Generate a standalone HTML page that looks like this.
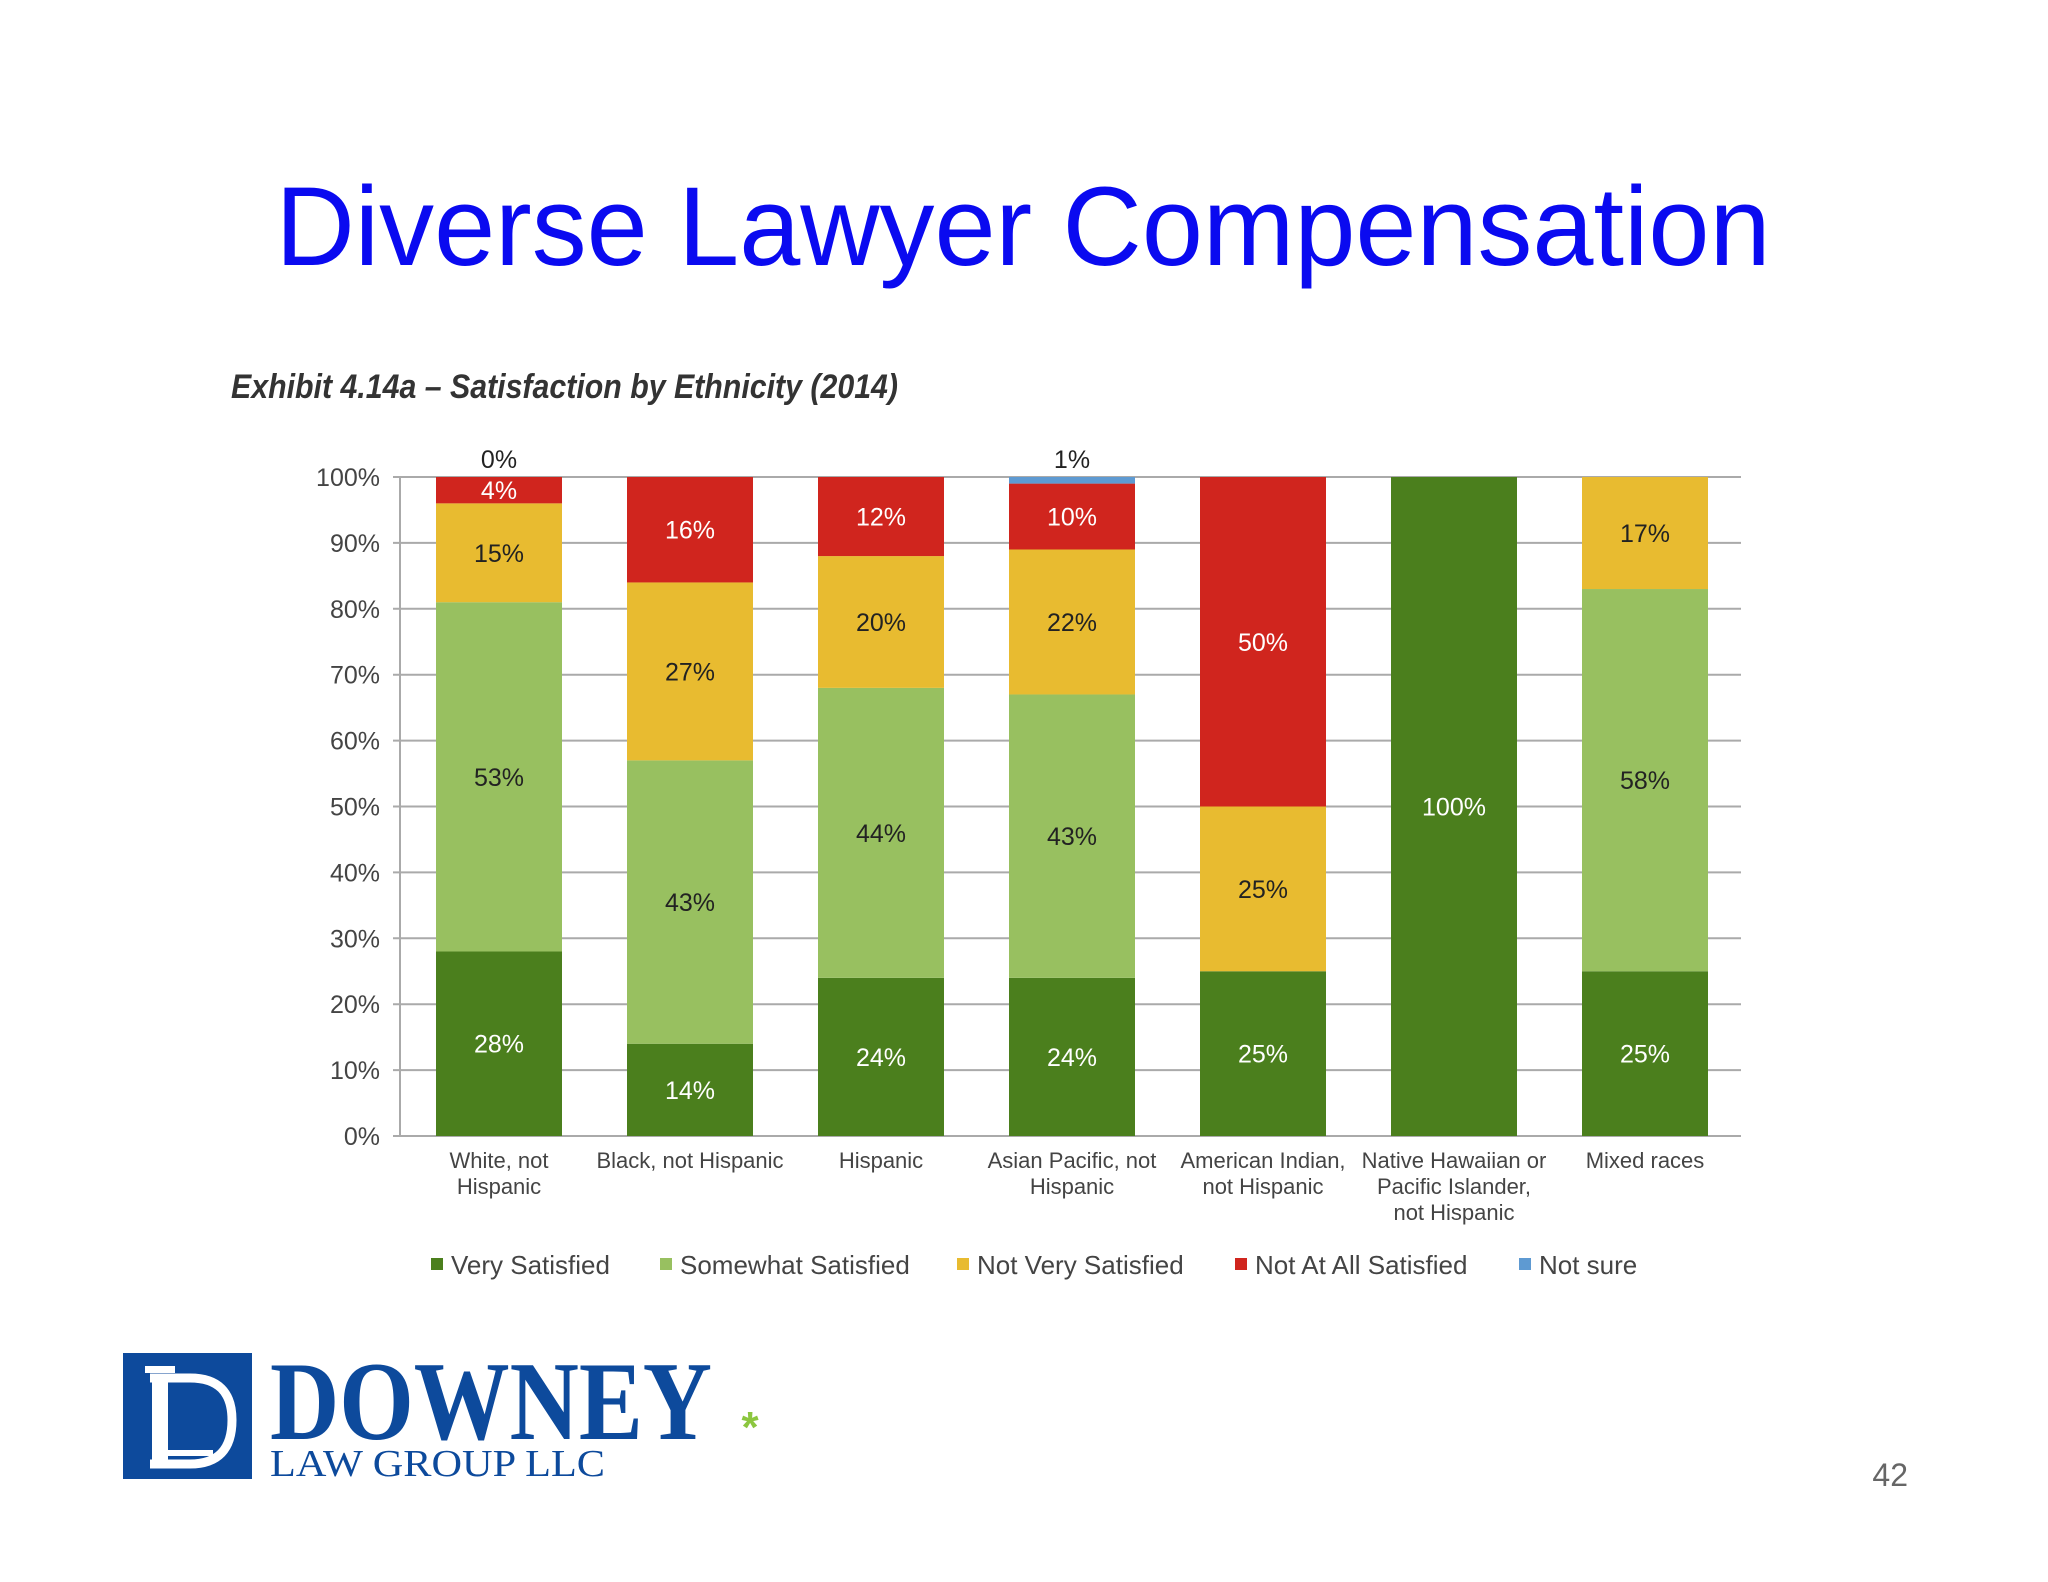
<!DOCTYPE html>
<html><head><meta charset="utf-8"><style>body{margin:0;background:#fff}svg{display:block}</style></head>
<body>
<svg id="c" width="2048" height="1582" xmlns="http://www.w3.org/2000/svg">
<text x="1023" y="265" text-anchor="middle" font-family="Liberation Sans, sans-serif" font-size="112" fill="#0a0af0" textLength="1495" lengthAdjust="spacingAndGlyphs">Diverse Lawyer Compensation</text>
<text x="231" y="398" font-family="Liberation Sans, sans-serif" font-size="34" font-weight="bold" font-style="italic" fill="#333" textLength="667" lengthAdjust="spacingAndGlyphs">Exhibit 4.14a – Satisfaction by Ethnicity (2014)</text>
<g id="chart"></g>
<g>
<rect x="123" y="1353" width="129" height="126" fill="#0d4a9c"/>
<rect x="145" y="1366" width="30" height="7" fill="#fff"/>
<path d="M150 1378 H190 Q232 1378 232 1420 Q232 1464 190 1464 H150" fill="none" stroke="#fff" stroke-width="9"/>
<rect x="152" y="1375" width="16" height="92" fill="#fff"/>
<rect x="168" y="1450" width="45" height="6" fill="#fff"/>
<text x="270" y="1439" font-family="Liberation Serif, serif" font-weight="bold" font-size="112" fill="#0d4a9c" textLength="442" lengthAdjust="spacingAndGlyphs">DOWNEY</text>
<text x="270" y="1476" font-family="Liberation Serif, serif" font-size="38" fill="#0d4a9c" textLength="335" lengthAdjust="spacingAndGlyphs">LAW GROUP LLC</text>
<text x="750" y="1442" text-anchor="middle" font-family="Liberation Sans, sans-serif" font-weight="bold" font-size="44" fill="#8cc63f">*</text>
</g>
<text x="1908" y="1486" text-anchor="end" font-family="Liberation Sans, sans-serif" font-size="32" fill="#666">42</text>
</svg>
<script>
const categories=[["White, not","Hispanic"],["Black, not Hispanic"],["Hispanic"],["Asian Pacific, not","Hispanic"],["American Indian,","not Hispanic"],["Native Hawaiian or","Pacific Islander,","not Hispanic"],["Mixed races"]];
const seriesNames=["Very Satisfied","Somewhat Satisfied","Not Very Satisfied","Not At All Satisfied","Not sure"];
const verySatisfied=[28,14,24,24,25,100,25];
const somewhatSatisfied=[53,43,44,43,0,0,58];
const notVerySatisfied=[15,27,20,22,25,0,17];
const notAtAllSatisfied=[4,16,12,10,50,0,0];
const notSure=[0,0,0,1,0,0,0];
const yTicks=[0,10,20,30,40,50,60,70,80,90,100];
const colors=["#4b7f1d","#98c060","#e8bb30","#d0251e","#5e9ad2"];
const textCol=["#fff","#222","#222","#fff","#222"];
const NS="http://www.w3.org/2000/svg";
const g=document.getElementById('chart');
const y0=1136,yTop=477;
const y=v=>y0-(v/100)*(y0-yTop);
const xc=i=>499+i*191;
const bw=126;
function el(t,a,txt){const e=document.createElementNS(NS,t);for(const k in a)e.setAttribute(k,a[k]);if(txt!==undefined)e.textContent=txt;g.appendChild(e);return e;}
yTicks.forEach(t=>{
 const l=el('line',{x1:393,x2:1741,y1:y(t),y2:y(t),stroke:'#aaa','stroke-width':2});
 
 
 const tx=el('text',{x:380,y:y(t)+9,'text-anchor':'end','font-family':'Liberation Sans, sans-serif','font-size':25,fill:'#444'},t+'%');
 
 
});
const ax=el('line',{x1:400,x2:400,y1:yTop,y2:y0,stroke:'#aaa','stroke-width':2});


const series=[verySatisfied,somewhatSatisfied,notVerySatisfied,notAtAllSatisfied,notSure];
categories.forEach((cat,i)=>{
 let acc=0;
 series.forEach((s,k)=>{
  const v=s[i];
  if(v>0){
   const r=el('rect',{x:xc(i)-bw/2,y:y(acc+v),width:bw,height:y(acc)-y(acc+v),fill:colors[k]});
   
   
  }
  if(k<4&&v>0){
   const t=el('text',{x:xc(i),y:(y(acc)+y(acc+v))/2+9,'text-anchor':'middle','font-family':'Liberation Sans, sans-serif','font-size':25,fill:textCol[k]},v+'%');
   
   
  }
  acc+=v;
 });
 if(i===0||i===3){
  const t=el('text',{x:xc(i),y:468,'text-anchor':'middle','font-family':'Liberation Sans, sans-serif','font-size':25,fill:'#222'},notSure[i]+'%');
  
  
 }
 cat.forEach((line,j)=>{
  const t=el('text',{x:xc(i),y:1168+j*26,'text-anchor':'middle','font-family':'Liberation Sans, sans-serif','font-size':22,fill:'#444'},line);
  
  
 });
});
const legX=[431,660,957,1235,1519];
seriesNames.forEach((n,k)=>{
 const r=el('rect',{x:legX[k],y:1258,width:12,height:12,fill:colors[k]});
 
 
 const t=el('text',{x:legX[k]+20,y:1274,'font-family':'Liberation Sans, sans-serif','font-size':26,fill:'#444'},n);
 
 
});
</script>
</body></html>
